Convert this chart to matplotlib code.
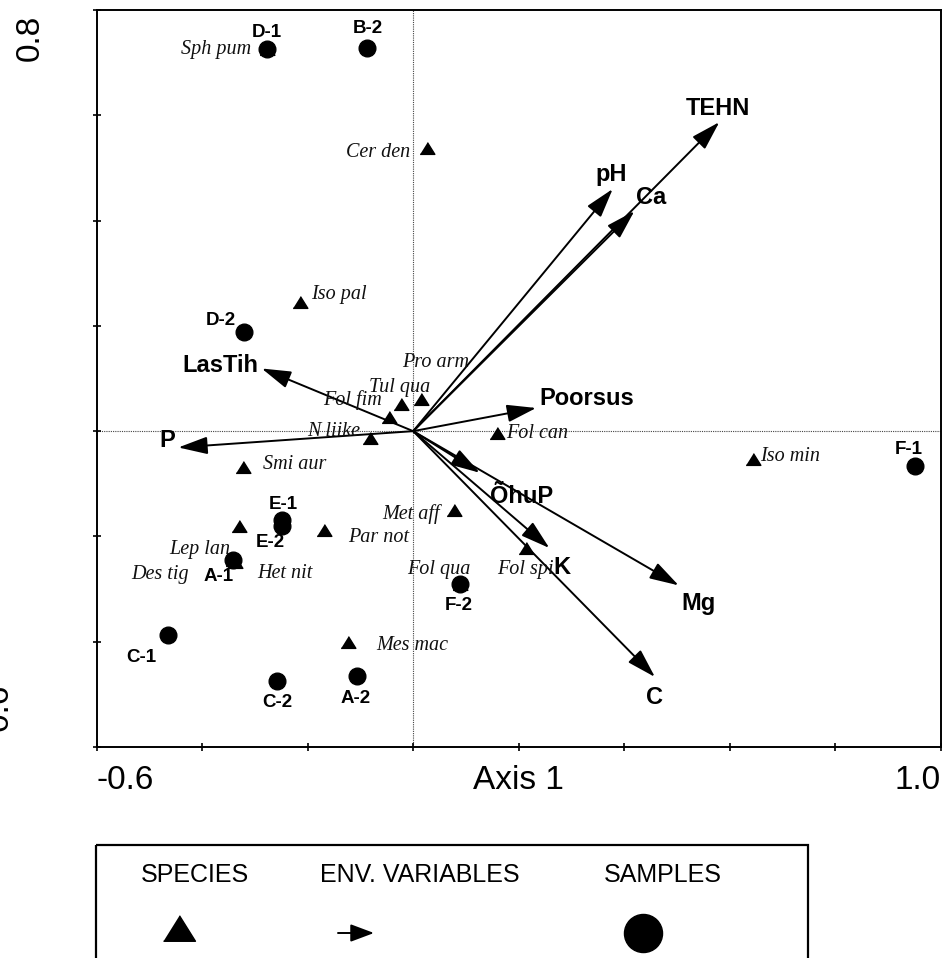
import numpy as np
import matplotlib
matplotlib.use("Agg")
import matplotlib.pyplot as plt
from matplotlib.patches import Rectangle

# ---------------- data: CCA biplot scores ----------------
sample_names = ["A-1", "A-2", "B-2", "C-1", "C-2", "D-1", "D-2", "E-1", "E-2", "F-1", "F-2"]
sample_x = [-0.342, -0.107, -0.088, -0.465, -0.258, -0.277, -0.320, -0.249, -0.249, 0.951, 0.089]
sample_y = [-0.244, -0.466, 0.727, -0.387, -0.474, 0.726, 0.189, -0.169, -0.180, -0.066, -0.291]

species_names = ["Sph pum", "Cer den", "Iso pal", "Pro arm", "Tul qua", "Fol fim", "N liike",
                 "Smi aur", "Fol can", "Iso min", "Met aff", "Par not", "Lep lan", "Des tig",
                 "Het nit", "Fol qua", "Fol spi", "Mes mac"]
species_x = [-0.277, 0.027, -0.214, 0.015, -0.023, -0.046, -0.081,
             -0.323, 0.159, 0.643, 0.078, -0.169, -0.330, -0.342,
             -0.338, 0.089, 0.213, -0.123]
species_y = [0.726, 0.538, 0.245, 0.061, 0.051, 0.026, -0.013,
             -0.068, -0.004, -0.053, -0.149, -0.187, -0.181, -0.244,
             -0.248, -0.291, -0.222, -0.401]

env_names = ["TEHN", "pH", "Ca", "Poorsus", "LasTih", "P", "ÕhuP", "K", "Mg", "C"]
env_x = [0.580, 0.378, 0.419, 0.233, -0.287, -0.445, 0.126, 0.258, 0.503, 0.458]
env_y = [0.587, 0.460, 0.418, 0.044, 0.119, -0.031, -0.079, -0.222, -0.293, -0.467]

x_ticks = [-0.6, -0.4, -0.2, 0.0, 0.2, 0.4, 0.6, 0.8, 1.0]
x_tick_labels = ["-0.6", "", "", "", "Axis 1", "", "", "", "1.0"]
y_ticks = [-0.6, -0.4, -0.2, 0.0, 0.2, 0.4, 0.6, 0.8]

# ---------------- label placement (offsets in pixels, alignment) ----------------
sample_label_pos = {
    "A-1": (-14, -21), "A-2": (-1, -27), "B-2": (1, 15), "C-1": (-26, -27),
    "C-2": (0, -26), "D-1": (0, 12), "D-2": (-23, 7), "E-1": (2, 11),
    "E-2": (-11, -21), "F-1": (-6, 12), "F-2": (-1, -26),
}
species_label_pos = {
    "Sph pum": (-16, -5, "right"), "Cer den": (-17, -9, "right"), "Iso pal": (11, 3, "left"),
    "Pro arm": (-19, 32, "left"), "Tul qua": (-32, 12, "left"), "Fol fim": (-7, 12, "right"),
    "N liike": (-10, 2, "right"), "Smi aur": (20, -2, "left"), "Fol can": (9, -5, "left"),
    "Iso min": (8, -2, "left"), "Met aff": (-14, -9, "right"), "Par not": (24, -12, "left"),
    "Lep lan": (-9, -28, "right"), "Des tig": (-44, -19, "right"), "Het nit": (22, -16, "left"),
    "Fol qua": (-53, 10, "left"), "Fol spi": (-29, -26, "left"), "Mes mac": (28, -8, "left"),
}
env_label_pos = {
    "TEHN": (-1, 7, "center"), "pH": (-1, 8, "center"), "Ca": (17, 7, "center"),
    "Poorsus": (3, 3, "left"), "LasTih": (-3, -4, "right"), "P": (-3, 0, "right"),
    "ÕhuP": (10, -30, "left"), "K": (4, -26, "left"), "Mg": (3, -25, "left"),
    "C": (0, -27, "center"),
}

SANS = ["Liberation Sans", "DejaVu Sans"]
SERIF = ["Liberation Serif", "DejaVu Serif"]
plt.rcParams["font.family"] = SANS

W, H = 944, 958
fig = plt.figure(figsize=(W / 100, H / 100), dpi=100)
fig.patch.set_facecolor("white")

ax = fig.add_axes([96.5 / W, 1 - 747 / H, 844.5 / W, 737 / H])
ax.set_xlim(-0.6, 1.0)
ax.set_ylim(-0.6, 0.8)

for sp in ax.spines.values():
    sp.set_linewidth(1.4)
ax.set_xticks(x_ticks)
ax.set_xticklabels(x_tick_labels)
ax.set_yticks(y_ticks)
ax.set_yticklabels([])
ax.tick_params(axis="both", direction="inout", length=6, width=1.2,
               labelsize=24, pad=10)
labels = ax.get_xticklabels()
labels[0].set_ha("left")
labels[-1].set_ha("right")

# zero lines
ax.axhline(0, color="#444444", lw=0.8, ls=(0, (1, 1)), zorder=1)
ax.axvline(0, color="#444444", lw=0.8, ls=(0, (1, 1)), zorder=1)

# y-axis end labels, rotated
fig.text(30.5 / W, 1 - 37.5 / H, "0.8", rotation=90, fontsize=24,
         ha="center", va="center")
fig.text(-1 / W, 1 - 712 / H, "-0.6", rotation=90, fontsize=24,
         ha="center", va="center")

tri = [(-1, -0.8), (1, -0.8), (0, 0.8)]

# environmental variable arrows
for name, ex, ey in zip(env_names, env_x, env_y):
    ax.annotate("", xy=(ex, ey), xytext=(0, 0),
                arrowprops=dict(arrowstyle="-|>,head_length=0.9,head_width=0.27",
                                mutation_scale=20, lw=1.4, color="black",
                                shrinkA=0, shrinkB=0), zorder=2)
    dx, dy, ha = env_label_pos[name]
    ax.annotate(name, xy=(ex, ey), xytext=(dx, dy), textcoords="offset pixels",
                ha=ha, va="baseline", fontsize=17, fontweight="bold", zorder=6)

# species
ax.plot(species_x, species_y, ls="none", marker=tri, markersize=10.6,
        color="black", zorder=3)
for name, sx, sy in zip(species_names, species_x, species_y):
    dx, dy, ha = species_label_pos[name]
    ax.annotate(name, xy=(sx, sy), xytext=(dx, dy), textcoords="offset pixels",
                ha=ha, va="baseline", fontsize=14.5, fontstyle="italic",
                family=SERIF, color="#111111", zorder=5)

# samples
ax.plot(sample_x, sample_y, ls="none", marker="o", markersize=12,
        color="black", zorder=4)
for name, sx, sy in zip(sample_names, sample_x, sample_y):
    dx, dy = sample_label_pos[name]
    ax.annotate(name, xy=(sx, sy), xytext=(dx, dy), textcoords="offset pixels",
                ha="center", va="baseline", fontsize=13.5, fontweight="bold",
                zorder=6)

# ---------------- legend panel ----------------
leg = fig.add_axes([0, 0, 1, 1])
leg.set_xlim(0, W)
leg.set_ylim(H, 0)
leg.set_axis_off()
leg.add_patch(Rectangle((96.4, 845), 711.2, 200, fill=False, lw=1.6,
                        edgecolor="black", clip_on=True))
for label, cx in [("SPECIES", 195), ("ENV. VARIABLES", 419.5), ("SAMPLES", 663)]:
    leg.text(cx, 875, label, fontsize=18, ha="center", va="center")
leg.plot([178.6], [927.5], marker=tri, markersize=23, color="black", ls="none")
leg.annotate("", xy=(374, 933), xytext=(338, 933),
             arrowprops=dict(arrowstyle="-|>,head_length=0.8,head_width=0.3",
                             mutation_scale=18, lw=1.4, color="black",
                             shrinkA=0, shrinkB=0))
leg.plot([643], [933], marker="o", markersize=27.4, color="black", ls="none")

fig.savefig("out.png", dpi=100, facecolor="white")
